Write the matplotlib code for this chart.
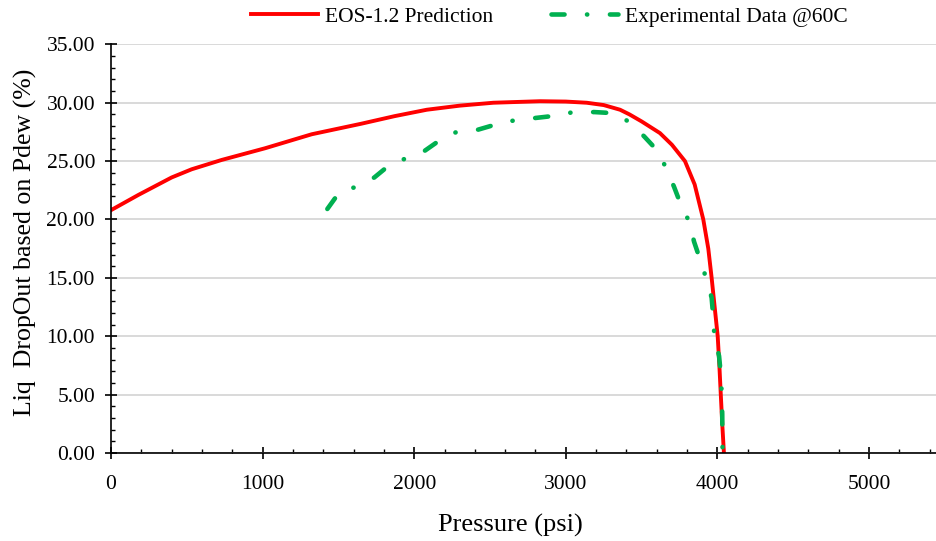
import matplotlib
matplotlib.use("Agg")
import matplotlib.pyplot as plt
from matplotlib.ticker import MultipleLocator, FormatStrFormatter

plt.rcParams['font.family'] = ['Liberation Serif', 'DejaVu Serif']

# EOS-1.2 prediction
eos_p = [0, 180, 400, 532, 730, 1016, 1324, 1650, 1870, 2083, 2300, 2522, 2830, 3000,
         3138, 3250, 3358, 3420, 3500, 3621, 3700, 3786, 3850, 3907, 3940, 3962,
         3982, 4002, 4013, 4022, 4032, 4043]
eos_y = [20.8, 22.1, 23.6, 24.3, 25.1, 26.1, 27.3, 28.2, 28.85, 29.4, 29.75, 30.0, 30.13,
         30.1, 30.0, 29.8, 29.4, 29.0, 28.4, 27.4, 26.4, 25.0, 23.0, 20.0, 17.5, 15.0,
         12.5, 10.0, 7.5, 5.1, 2.5, 0.0]

# Experimental data @60C
exp_p = [1427, 1510, 1620, 1737, 1840, 1939, 2071, 2181, 2280, 2423, 2555, 2665,
         2803, 2940, 3050, 3188, 3325, 3424, 3518, 3611, 3661, 3714, 3764, 3815,
         3846, 3890, 3925, 3962, 3973, 3980, 4011, 4024, 4028, 4032, 4034]
exp_y = [20.9, 22.4, 22.8, 23.6, 24.7, 25.2, 25.9, 26.9, 27.5, 27.7, 28.2, 28.5,
         28.7, 28.9, 29.2, 29.2, 29.1, 28.3, 27.1, 25.8, 24.4, 22.8, 21.1, 19.8,
         18.1, 16.4, 15.0, 13.3, 11.6, 10.0, 8.3, 6.5, 5.1, 3.3, 0.0]

fig = plt.figure(figsize=(9.36, 5.41), dpi=100)
ax = fig.add_axes([0.1186, 0.1627, 0.8814, 0.7553])

ax.plot(eos_p, eos_y, color='#ff0000', lw=2.8, label='EOS-1.2 Prediction', zorder=3)
ax.plot(exp_p, exp_y, color='#00b050', lw=3.3, dashes=(2.85, 4.9, 0.05, 4.95),
        dash_capstyle='round', label='Experimental Data @60C', zorder=4)

ax.set_xlim(0, 5442)
ax.set_ylim(0, 35)
ax.xaxis.set_major_locator(MultipleLocator(1000))
ax.xaxis.set_minor_locator(MultipleLocator(200))
ax.yaxis.set_major_locator(MultipleLocator(5))
ax.yaxis.set_minor_locator(MultipleLocator(1))
ax.yaxis.set_major_formatter(FormatStrFormatter('%.2f'))

ax.grid(axis='y', which='major', color='#d9d9d9', lw=1.4)
ax.set_axisbelow(True)
for s in ['top', 'right']:
    ax.spines[s].set_visible(False)
for s in ['left', 'bottom']:
    ax.spines[s].set_color('black')
    ax.spines[s].set_linewidth(1.2)
    ax.spines[s].set_zorder(5)

ax.tick_params(which='major', direction='inout', length=8, width=1.2, labelsize=15.5, pad=7.5)
ax.tick_params(which='minor', direction='in', length=3.2, width=1.0)
ax.tick_params(axis='x', which='major', pad=12)

ax.set_xlabel('Pressure (psi)', fontsize=19)
ax.set_ylabel('Liq  DropOut based on Pdew (%)', fontsize=18.6)
ax.xaxis.set_label_coords(0.484, -0.15)
ax.yaxis.set_label_coords(-0.09, 0.515)

fig.legend(handles=ax.get_lines(), loc='center', bbox_to_anchor=(0.587, 0.969), ncol=2,
           frameon=False, fontsize=15.5, handlelength=3.1, handletextpad=0.33,
           columnspacing=2.7, borderaxespad=0)

fig.savefig('out.png', dpi=100)
